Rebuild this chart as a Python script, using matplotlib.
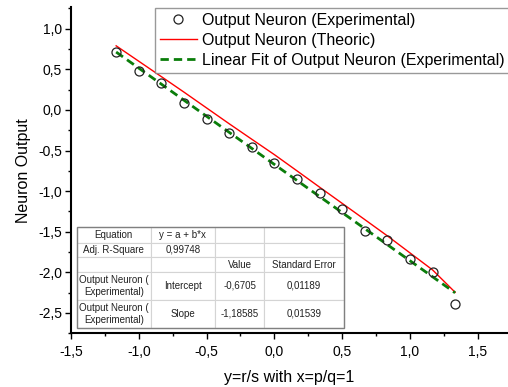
import matplotlib
matplotlib.use("Agg")
import matplotlib.pyplot as plt
from matplotlib.ticker import MultipleLocator, FuncFormatter
from matplotlib.patches import Rectangle

plt.rcParams['font.family'] = ['Liberation Sans', 'DejaVu Sans']

# ---- data ----
x_exp = [-1.167, -1.0, -0.833, -0.667, -0.5, -0.333, -0.167, 0.0,
         0.167, 0.333, 0.5, 0.667, 0.833, 1.0, 1.167, 1.333]
y_exp = [0.72, 0.485, 0.33, 0.09, -0.105, -0.285, -0.45, -0.65,
         -0.85, -1.025, -1.22, -1.485, -1.60, -1.84, -2.00, -2.385]
y_theo = [0.79, 0.60, 0.41, 0.22, 0.025, -0.17, -0.36, -0.55,
          -0.75, -0.95, -1.15, -1.35, -1.55, -1.76, -1.97, -2.245]
fit_intercept = -0.6705
fit_slope = -1.18585
fit_x = [-1.167, 1.333]

table_cells = [
    ["Equation", "y = a + b*x", "", ""],
    ["Adj. R-Square", "0,99748", "", ""],
    ["", "", "Value", "Standard Error"],
    ["Output Neuron (\nExperimental)", "Intercept", "-0,6705", "0,01189"],
    ["Output Neuron (\nExperimental)", "Slope", "-1,18585", "0,01539"],
]
legend_labels = ["Output Neuron (Experimental)", "Output Neuron (Theoric)",
                 "Linear Fit of Output Neuron (Experimental)"]

# ---- figure ----
W, H = 508, 387
fig = plt.figure(figsize=(W / 100, H / 100), dpi=100)
ax_l, ax_r, ax_t, ax_b = 71, 508, 7, 333.3
ax = fig.add_axes([ax_l / W, (H - ax_b) / H, (ax_r - ax_l) / W, (ax_b - ax_t) / H])

h1, = ax.plot(x_exp, y_exp, linestyle='none', marker='o', markersize=6.5,
              markerfacecolor='none', markeredgecolor='#222222', markeredgewidth=0.9, zorder=4)
h2, = ax.plot(x_exp, y_theo, color='#ff0000', lw=1.0, zorder=3)
fit_y = [fit_intercept + fit_slope * v for v in fit_x]
h3, = ax.plot(fit_x, fit_y, color='#0a7d0a', lw=2.0, dashes=(3, 1.8), zorder=3.5)

ax.set_xlim(-1.5, 1.723)
ax.set_ylim(-2.75, 1.268)

for s in ['top', 'right']:
    ax.spines[s].set_visible(False)
for s in ['left', 'bottom']:
    ax.spines[s].set_linewidth(1.5)

ax.xaxis.set_major_locator(MultipleLocator(0.5))
ax.xaxis.set_minor_locator(MultipleLocator(0.25))
ax.yaxis.set_major_locator(MultipleLocator(0.5))
ax.yaxis.set_minor_locator(MultipleLocator(0.25))
fmt = FuncFormatter(lambda v, p: ("%.1f" % v).replace('.', ',').replace('-0,0', '0,0'))
ax.xaxis.set_major_formatter(fmt)
ax.yaxis.set_major_formatter(fmt)
ax.tick_params(which='major', direction='out', length=4.5, width=1.0, labelsize=10)
ax.tick_params(which='minor', direction='out', length=2.5, width=1.0)
ax.tick_params(axis='y', which='major', pad=2)
ax.tick_params(axis='x', which='major', pad=4)

ax.set_xlabel("y=r/s with x=p/q=1", fontsize=11.5, labelpad=8)
ax.set_ylabel("Neuron Output", fontsize=11.5, labelpad=5)

leg = fig.legend([h1, h2, h3], legend_labels, loc='upper left',
                 bbox_to_anchor=(155 / W, 1 - 8 / H), borderaxespad=0,
                 fontsize=11.5, frameon=True, fancybox=False, handlelength=2.3,
                 handletextpad=0.35, borderpad=0.3, labelspacing=0.32)
leg.get_frame().set_edgecolor('#808080')
leg.get_frame().set_linewidth(1.0)

# ---- table ----
col_w = [73.7, 64.3, 49, 80]
row_h = [15.7, 14.6, 14.7, 28, 28]
tb_l, tb_r, tb_t, tb_b = 77, 344, 227, 328
aw, ah = ax_r - ax_l, ax_b - ax_t
bbox = [(tb_l - ax_l) / aw, (ax_b - tb_b) / ah, (tb_r - tb_l) / aw, (tb_b - tb_t) / ah]
tab = ax.table(cellText=table_cells, cellLoc='center', bbox=bbox, zorder=5)
tab.auto_set_font_size(False)
tab.set_fontsize(7)
for (r, c), cell in tab.get_celld().items():
    cell.set_width(col_w[c])
    cell.set_height(row_h[r])
    cell.set_edgecolor('#d4d4d4')
    cell.set_linewidth(0.8)
    cell.set_facecolor('white')
    cell.get_text().set_color('#222222')
    cell.PAD = 0.02
ax.add_patch(Rectangle((bbox[0], bbox[1]), bbox[2], bbox[3], transform=ax.transAxes,
                       fill=False, edgecolor='#808080', lw=1.0, zorder=6))

fig.savefig("out.png", dpi=100)
